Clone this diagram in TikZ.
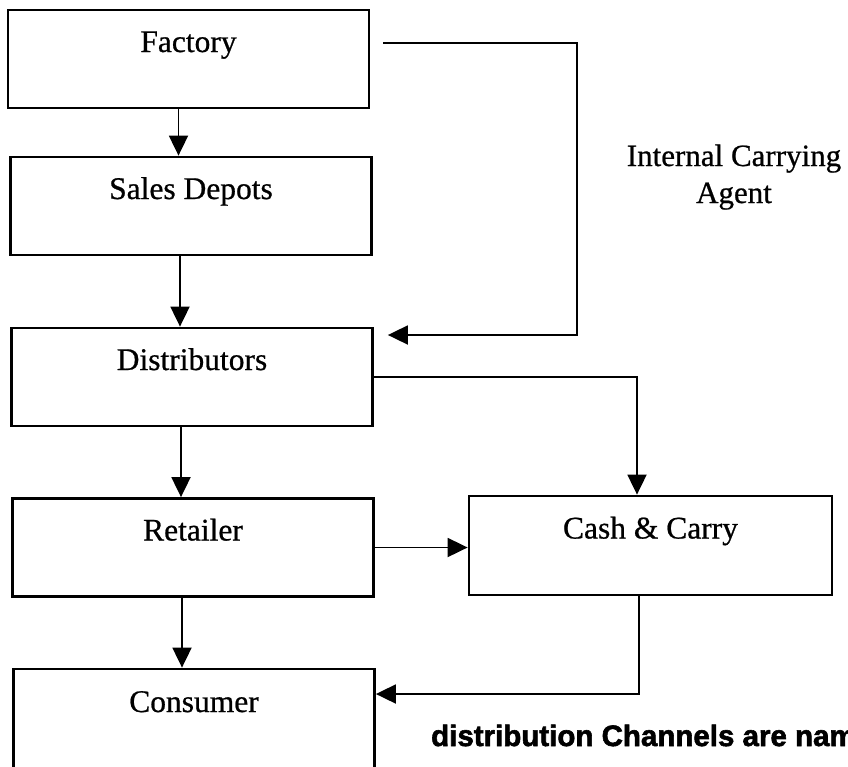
\documentclass[tikz,border=0pt]{standalone}
\usepackage{fontspec}
\setmainfont[FakeBold=0.7]{Liberation Serif}
\newfontfamily\notefont[FakeBold=2]{Liberation Sans Bold}
\usetikzlibrary{arrows.meta,calc}

\tikzset{
  stage/.style={draw, line width=2.8pt, rectangle, inner sep=0pt,
    minimum width=361pt, minimum height=98pt,
    text height=22pt, text depth=36pt,
    font=\fontsize{31.5}{36}\selectfont},
  flow/.style={line width=1.9pt, -{Triangle[length=20pt,width=19pt]}}
}

\begin{document}
\begin{tikzpicture}[x=1pt,y=-1pt]
  \useasboundingbox (0,0) rectangle (848,766);
  \clip (0,0) rectangle (848,766);

  % stages of the chain
  \node[stage] (fac) at (188.5,59)   {Factory};
  \node[stage] (sal) at (191,206)    {Sales Depots};
  \node[stage] (dis) at (192,377)    {Distributors};
  \node[stage] (ret) at (193,547.5)  {Retailer};
  \node[stage, minimum height=100pt] (con) at (194,719) {Consumer};
  \node[stage, minimum width=363pt, minimum height=99pt] (cas) at (650.5,545.5) {Cash \& Carry};

  % side note on the carrying agent
  \node[font=\fontsize{31}{37}\selectfont, align=center, anchor=base] (agent) at (734,203)
    {Internal Carrying\\Agent};

  % main vertical chain
  \draw[flow] ([xshift=-10pt]fac.south) -- ([xshift=-10pt]fac.south |- sal.north);
  \draw[flow] ([xshift=-11pt]sal.south) -- ([xshift=-11pt]sal.south |- dis.north);
  \draw[flow] ([xshift=-11pt]dis.south) -- ([xshift=-11pt]dis.south |- ret.north);
  \draw[flow] ([xshift=-11pt]ret.south) -- ([xshift=-11pt]ret.south |- con.north);

  % factory straight to distributors via the carrying agent
  \coordinate (agentStart) at ($(fac.east)+(13,-16)$);
  \coordinate (agentEnd)   at ($(dis.east)+(14,-42)$);
  \draw[flow] (agentStart) -- (577,43) -- (577,335) -- (agentEnd);

  % distributors to cash & carry
  \draw[flow] (dis.east) -| ([xshift=-13.5pt]cas.north);

  % retailer to cash & carry
  \draw[flow] (ret.east) -- (ret.east -| cas.west);

  % cash & carry to consumer
  \coordinate (conIn) at ($(con.east)+(0,-25)$);
  \draw[flow] ([xshift=-11.5pt]cas.south) |- (conIn);

  % caption, running off the right edge
  \node[font=\notefont\fontsize{29.5}{32}\selectfont, anchor=base west, inner sep=0pt] (note) at (431,746)
    {distribution Channels are nam};
\end{tikzpicture}
\end{document}
